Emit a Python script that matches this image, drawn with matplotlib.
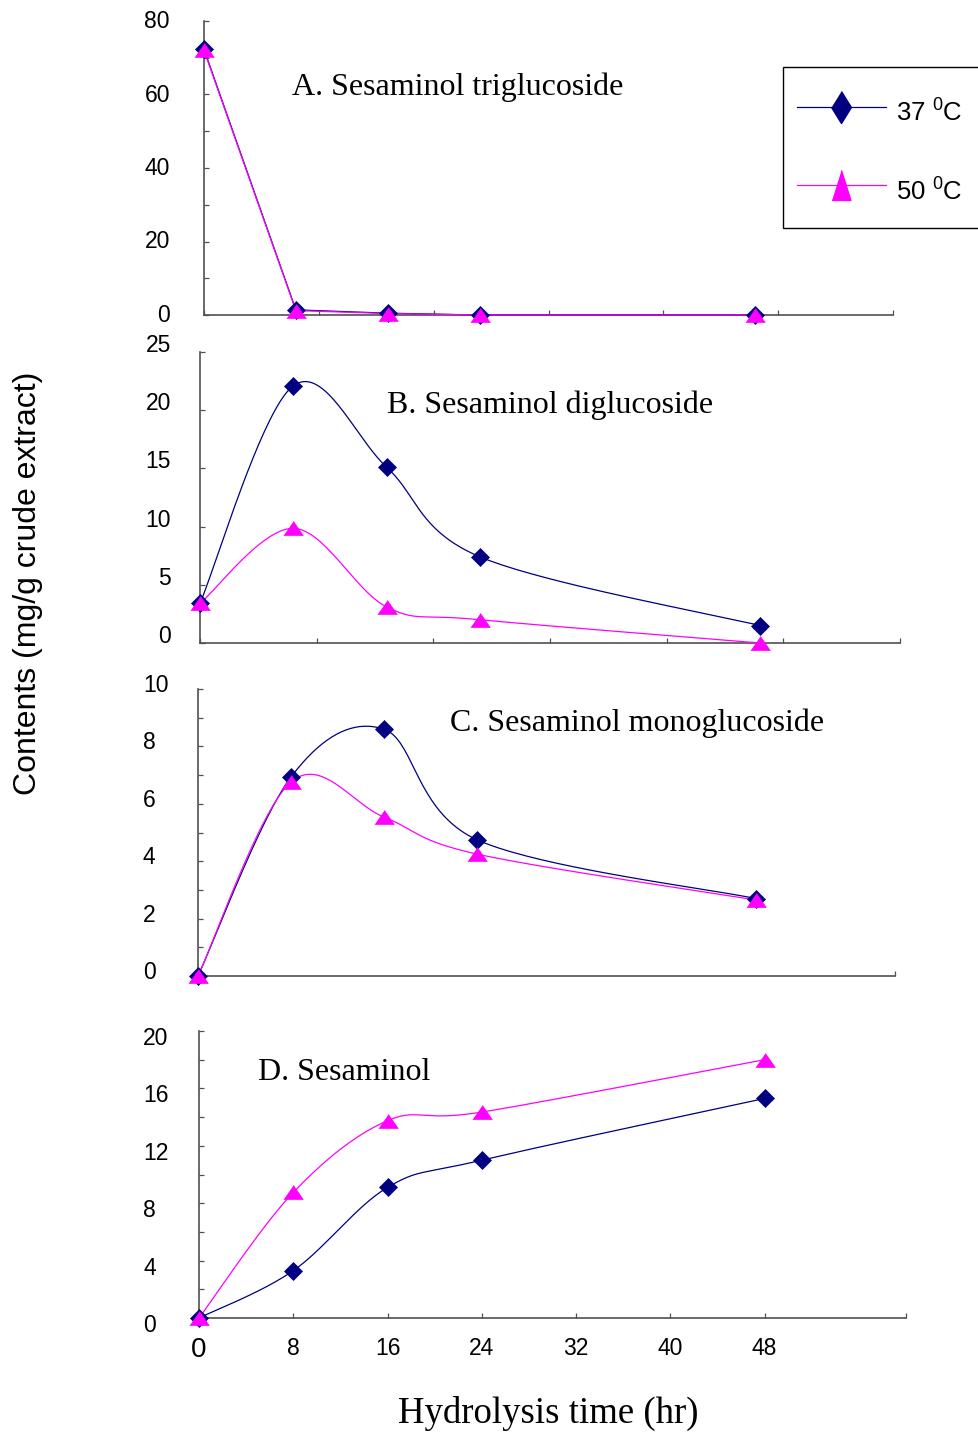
import numpy as np
import matplotlib
matplotlib.use("Agg")
import matplotlib.pyplot as plt
from matplotlib.lines import Line2D
from matplotlib.patches import Rectangle
from matplotlib.transforms import ScaledTranslation

# ---------------- data ----------------
hours = [0, 8, 16, 24, 48]
series_labels = ["37 $^{0}$C", "50 $^{0}$C"]

tri_37 = [72.3, 1.4, 0.5, 0.0, 0.0]
tri_50 = [72.0, 1.2, 0.4, 0.0, 0.0]
di_37 = [3.4, 22.1, 15.1, 7.4, 1.5]
di_50 = [3.4, 9.85, 3.1, 2.0, 0.0]
mono_37 = [0.0, 6.93, 8.6, 4.75, 2.7]
mono_50 = [0.0, 6.76, 5.54, 4.25, 2.65]
sol_37 = [0.0, 3.3, 9.1, 11.0, 15.3]
sol_50 = [0.0, 8.75, 13.75, 14.35, 18.0]

titles = ["A. Sesaminol triglucoside", "B. Sesaminol diglucoside",
          "C. Sesaminol monoglucoside", "D. Sesaminol"]
x_ticks_D = [0, 8, 16, 24, 32, 40, 48]

# ---------------- style ----------------
W, H = 979, 1433
C37 = "#000080"
C50 = "#FF00FF"
SANS = ["Liberation Sans", "DejaVu Sans"]
SERIF = ["Liberation Serif", "DejaVu Serif"]
plt.rcParams["mathtext.fontset"] = "custom"
plt.rcParams["mathtext.rm"] = "Liberation Sans"

fig = plt.figure(figsize=(W / 100, H / 100), dpi=100)


def px_axes(left, right, top, bottom):
    return fig.add_axes([left / W, 1 - bottom / H, (right - left) / W, (bottom - top) / H])


def smooth(x, y, n=40):
    P = np.column_stack([x, y]).astype(float)
    Pe = np.vstack([P[0], P, P[-1]])
    out = [P[0]]
    tt = np.linspace(0, 1, n)[1:]
    for i in range(len(P) - 1):
        p0, p1, p2, p3 = Pe[i], Pe[i + 1], Pe[i + 2], Pe[i + 3]
        c1 = p1 + (p2 - p0) / 6.0
        c2 = p2 - (p3 - p1) / 6.0
        seg = (((1 - tt) ** 3)[:, None] * p1 + (3 * (1 - tt) ** 2 * tt)[:, None] * c1
               + (3 * (1 - tt) * tt ** 2)[:, None] * c2 + (tt ** 3)[:, None] * p2)
        out.extend(seg)
    out = np.array(out)
    return out[:, 0], out[:, 1]


tri_marker = [(-1, -0.72), (1, -0.72), (0, 0.72)]

panels = [
    # (y37, y50, axes px box, ymax, major step, minor step, smooth, label align, pad, dy)
    (tri_37, tri_50, (204, 893, 21, 315), 80, 20, 10, False, "right", 24.5, 2),
    (di_37, di_50, (200, 900, 352, 643), 25, 5, 5, True, "right", 21.0, 9),
    (mono_37, mono_50, (198, 895, 689, 976), 10, 2, 1, True, "left", 39.6, 6),
    (sol_37, sol_50, (199, 906, 1031, 1318), 20, 4, 2, True, "left", 40.3, -5),
]
title_pos = [(292, 95), (387, 413), (450, 731), (258, 1080)]

for k, (y37, y50, box, ymax, maj, mnr, sm, ha, pad, dy) in enumerate(panels):
    ax = px_axes(*box)
    ax.set_xlim(0, 60)
    ax.set_ylim(0, ymax)
    for s in ("top", "right"):
        ax.spines[s].set_visible(False)
    for s in ("left", "bottom"):
        ax.spines[s].set_color("#505050")
        ax.spines[s].set_linewidth(1.2)

    for yv, col, mk, ms in ((y37, C37, "D", 9.0), (y50, C50, tri_marker, 14)):
        if sm:
            xs, ys = smooth(hours, yv)
        else:
            xs, ys = hours, yv
        ax.plot(xs, ys, color=col, lw=0.9, clip_on=False, zorder=3)
        ax.plot(hours, yv, ls="none", marker=mk, ms=ms, color=col,
                mec=col, mew=0.5, clip_on=False, zorder=4)

    ax.set_yticks(np.arange(0, ymax + 0.01, maj))
    ax.set_yticks(np.arange(0, ymax + 0.01, mnr), minor=True)
    ax.set_yticklabels([str(int(v)) for v in np.arange(0, ymax + 0.01, maj)])
    ax.tick_params(axis="y", which="both", direction="in", length=3.5, width=0.9,
                   color="#505050", pad=pad, labelsize=16.5)
    for lab in ax.get_yticklabels():
        lab.set_fontfamily(SANS)
        lab.set_horizontalalignment(ha)
        lab.set_transform(lab.get_transform()
                          + ScaledTranslation(0, dy / 100, fig.dpi_scale_trans))

    if k in (0, 1):
        ax.set_xticks(np.arange(0, 61, 10))
        ax.tick_params(axis="x", direction="in", length=3.5, width=0.9,
                       color="#505050", labelbottom=False)
    elif k == 2:
        ax.set_xticks([60])
        ax.tick_params(axis="x", direction="in", length=3.5, width=0.9,
                       color="#505050", labelbottom=False)
    else:
        ax.set_xticks(x_ticks_D + [60])
        ax.set_xticklabels([str(v) for v in x_ticks_D] + [""])
        ax.tick_params(axis="x", direction="in", length=3.5, width=0.9,
                       color="#505050", pad=14, labelsize=16.5)
        for i, lab in enumerate(ax.get_xticklabels()):
            lab.set_fontfamily(SANS)
            if i == 0:
                lab.set_fontsize(20)

    tx, ty = title_pos[k]
    fig.text(tx / W, 1 - ty / H, titles[k], fontsize=23, family=SERIF,
             ha="left", va="baseline")

# axis titles
fig.text(28 / W, 1 - 583 / H, "Contents (mg/g crude extract)", rotation=90,
         fontsize=23, family=SANS, ha="center", va="center")
fig.text(548 / W, 1 - 1413 / H, "Hydrolysis time (hr)", fontsize=26.5,
         family=SERIF, ha="center", va="center")

# legend (frame drawn separately so it runs off the right edge like the original)
fig.patches.append(Rectangle((783 / W, 1 - 228 / H), 220 / W, 161 / H,
                             transform=fig.transFigure, fill=False,
                             edgecolor="black", lw=1.0, clip_on=False))
leg_d = [(0, 1), (0.62, 0), (0, -1), (-0.62, 0)]
leg_t = [(-0.63, -1), (0.63, -1), (0, 1)]
handles = [
    Line2D([0], [0], color=C37, lw=0.9, marker=leg_d, ms=23, mfc=C37, mec=C37),
    Line2D([0], [0], color=C50, lw=0.9, marker=leg_t, ms=21.5, mfc=C50, mec=C50),
]
fs_leg = 18.5
leg = fig.legend(handles=handles, labels=series_labels, loc="center left",
                 bbox_to_anchor=(797 / W, 1 - 152 / H), bbox_transform=fig.transFigure,
                 frameon=False, prop={"family": SANS, "size": fs_leg}, borderpad=0,
                 handlelength=3.45, handleheight=2.0, labelspacing=1.5,
                 handletextpad=0.4, borderaxespad=0, markerscale=1.0)

fig.savefig("out.png", dpi=100)
